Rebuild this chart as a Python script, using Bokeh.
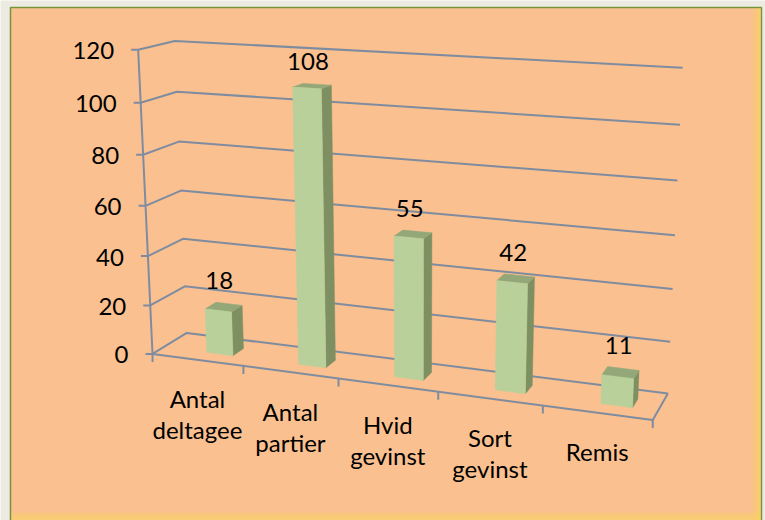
import numpy as np
from bokeh.plotting import figure
from bokeh.models import Range1d
from bokeh.core.properties import value
from bokeh.embed import file_html
from bokeh.resources import INLINE

# ---------------- data ----------------
categories = [["Antal", "deltagee"], ["Antal", "partier"], ["Hvid", "gevinst"],
              ["Sort", "gevinst"], ["Remis"]]
counts = [18, 108, 55, 42, 11]
y_ticks = [0, 20, 40, 60, 80, 100, 120]
y_max = 120

# ---------------- camera (box corners of the 3-D frame, page pixels) ----------------
# world: X = category units (0..5), Y = value (0..120), Z = depth (0 front .. 1 back)
calib_world = [(0, 0, 0), (0, 120, 0), (5, 0, 0), (0, 0, 1), (0, 120, 1), (5, 0, 1), (5, 120, 1),
               (1, 0, 0), (2, 0, 0), (3, 0, 0), (4, 0, 0)]
calib_screen = [(152, 353), (137, 50), (652, 420), (186, 333), (175, 40), (667, 393), (682, 67),
                (243, 365), (338, 378), (438, 391), (543, 405)]


def fit_camera(W, S):
    W = np.asarray(W, float)
    S = np.asarray(S, float)
    wm = W.mean(0)
    ws = W.std(0)
    ws[ws == 0] = 1
    sm = S.mean(0)
    ss = S.std()
    Wn = (W - wm) / ws
    Sn = (S - sm) / ss
    A = []
    for (X, Y, Z), (u, v) in zip(Wn, Sn):
        A.append([X, Y, Z, 1, 0, 0, 0, 0, -u * X, -u * Y, -u * Z, -u])
        A.append([0, 0, 0, 0, X, Y, Z, 1, -v * X, -v * Y, -v * Z, -v])
    _, _, Vt = np.linalg.svd(np.array(A))
    P = Vt[-1].reshape(3, 4)

    def proj(X, Y, Z):
        x = (np.array([X, Y, Z], float) - wm) / ws
        h = P @ np.append(x, 1.0)
        return (h[0] / h[2] * ss + sm[0], h[1] / h[2] * ss + sm[1])
    return proj


proj = fit_camera(calib_world, calib_screen)
ncat = len(counts)

# bar geometry in world units
bx0, bx1 = 0.48, 0.77
z0, z1 = 0.33, 0.66

FONT = value("Lato")
FSIZE = "24px"
GRID = "#7F8CA0"

p = figure(width=765, height=520, output_backend="svg", toolbar_location=None,
           x_range=Range1d(0, 765), y_range=Range1d(520, 0), min_border=0)
p.axis.visible = False
p.grid.visible = False
p.outline_line_color = None
p.background_fill_color = "#EDEBE1"
p.border_fill_color = "#EDEBE1"

# chart area frame
p.quad(left=10, right=761, top=7, bottom=540, fill_color="#FAC090", line_color="#77933C", line_width=1.5)
# yellow glow at right and bottom edges
for k in range(8):
    a = 0.12 + 0.1 * k
    p.quad(left=752 + k, right=753 + k, top=8, bottom=540, fill_color="#F9D55E", fill_alpha=a, line_color=None)
    p.quad(left=11, right=760, top=511 + k, bottom=512 + k, fill_color="#F9D55E", fill_alpha=a, line_color=None)

# back walls gridlines
gx, gy = [], []
for t in y_ticks:
    pts = [proj(0, t, 0), proj(0, t, 1), proj(ncat, t, 1)]
    gx.append([q[0] for q in pts])
    gy.append([q[1] for q in pts])
p.multi_line(gx, gy, line_color=GRID, line_width=2)

# bars
fx, fy, sx, sy, tx, ty = [], [], [], [], [], []
for i, v in enumerate(counts):
    x0, x1 = i + bx0, i + bx1
    front = [proj(x0, 0, z0), proj(x1, 0, z0), proj(x1, v, z0), proj(x0, v, z0)]
    side = [proj(x1, 0, z0), proj(x1, 0, z1), proj(x1, v, z1), proj(x1, v, z0)]
    top = [proj(x0, v, z0), proj(x1, v, z0), proj(x1, v, z1), proj(x0, v, z1)]
    fx.append([q[0] for q in front]); fy.append([q[1] for q in front])
    sx.append([q[0] for q in side]); sy.append([q[1] for q in side])
    tx.append([q[0] for q in top]); ty.append([q[1] for q in top])
p.patches(sx, sy, fill_color="#7E8F62", line_color="#7E8F62", line_width=0.5)
p.patches(tx, ty, fill_color="#93A778", line_color="#93A778", line_width=0.5)
p.patches(fx, fy, fill_color="#B9D09A", line_color="#B9D09A", line_width=0.5)

# floor front/right edges and vertical axis
ax_pts = [proj(0, y_max, 0), proj(0, 0, 0), proj(ncat, 0, 0), proj(ncat, 0, 1)]
p.line([q[0] for q in ax_pts], [q[1] for q in ax_pts], line_color=GRID, line_width=2)

# ticks
tkx, tky = [], []
for t in y_ticks:
    u, w = proj(0, t, 0)
    tkx.append([u - 7, u]); tky.append([w, w])
for k in range(ncat + 1):
    u, w = proj(k, 0, 0)
    tkx.append([u, u]); tky.append([w, w + 8])
p.multi_line(tkx, tky, line_color=GRID, line_width=2)

# y tick labels
lx, ly, lt = [], [], []
for t in y_ticks:
    u, w = proj(0, t, 0)
    lx.append(u - 24); ly.append(w + 1); lt.append(str(t))
p.text(lx, ly, text=lt, text_font=FONT, text_font_size=FSIZE, text_color="black",
       text_align="right", text_baseline="middle")

# category labels
cx, cy, ct = [], [], []
for i, lines in enumerate(categories):
    u, w = proj(i + 0.5, 0, 0)
    for j, s in enumerate(lines):
        cx.append(u); cy.append(w + 39 + 31 * j); ct.append(s)
p.text(cx, cy, text=ct, text_font=FONT, text_font_size=FSIZE, text_color="black",
       text_align="center", text_baseline="alphabetic")

# value labels
vx, vy, vt = [], [], []
for i, v in enumerate(counts):
    xc = i + (bx0 + bx1) / 2
    u, _ = proj(xc, v, z0)
    _, w = proj(xc, v, z1)
    vx.append(u + 1); vy.append(w - 23); vt.append(str(v))
p.text(vx, vy, text=vt, text_font=FONT, text_font_size=FSIZE, text_color="black",
       text_align="center", text_baseline="alphabetic")

open("out.html", "w").write(file_html(p, INLINE))
